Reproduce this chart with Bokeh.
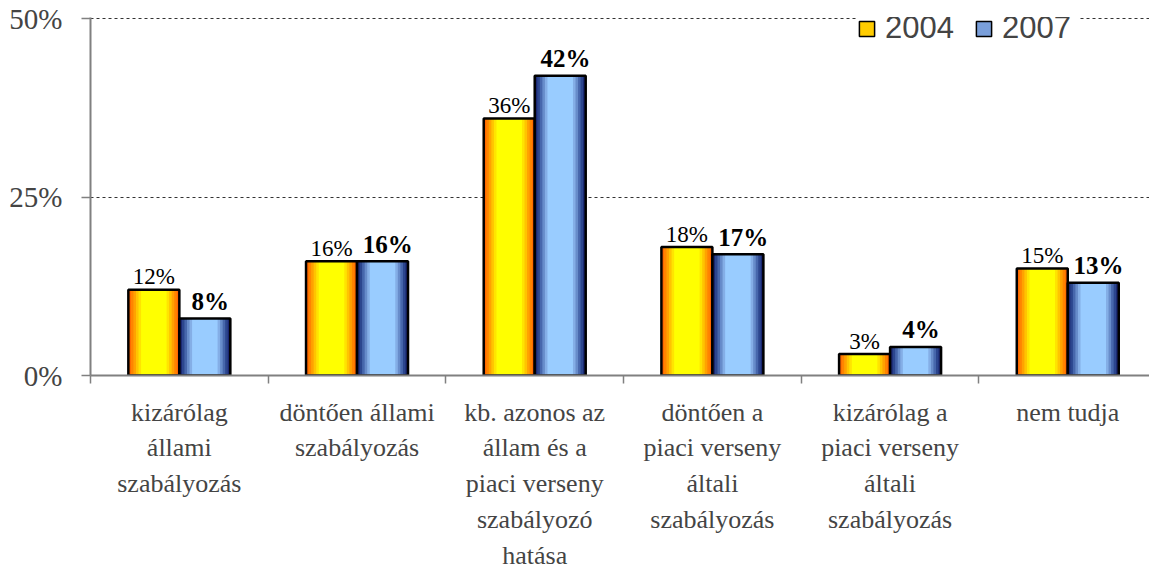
from bokeh.plotting import figure
from bokeh.models import (ColumnDataSource, Range1d, FixedTicker, PrintfTickFormatter,
                          Legend, LegendItem)
from bokeh.transform import dodge
from bokeh.core.properties import value
from bokeh.embed import file_html
from bokeh.resources import INLINE

categories = [
    "kizárólag\nállami\nszabályozás",
    "döntően állami\nszabályozás",
    "kb. azonos az\nállam és a\npiaci verseny\nszabályozó\nhatása",
    "döntően a\npiaci verseny\náltali\nszabályozás",
    "kizárólag a\npiaci verseny\náltali\nszabályozás",
    "nem tudja",
]
series_names = ["2004", "2007"]
values_2004 = [12, 16, 36, 18, 3, 15]
values_2007 = [8, 16, 42, 17, 4, 13]
y_ticks = [0, 25, 50]

centers = [i + 0.5 for i in range(len(categories))]
source = ColumnDataSource(dict(
    x=centers,
    v2004=values_2004,
    v2007=values_2007,
    l2004=[f"{v}%" for v in values_2004],
    l2007=[f"{v}%" for v in values_2007],
))

SERIF = "Liberation Serif"
SANS = "Liberation Sans"

p = figure(width=1149, height=573, output_backend="svg", toolbar_location=None,
           x_range=Range1d(0, 5.96), y_range=Range1d(0, 50.15),
           min_border_left=90, min_border_right=0, min_border_top=17,
           min_border_bottom=197)
p.outline_line_color = None
p.background_fill_color = "white"
p.border_fill_color = "white"

bw = 0.287
off = 0.1435

orange_layers = [(1.0, "#FF6600"), (0.9, "#FF8400"), (0.8, "#FFA200"),
                 (0.7, "#FFC400"), (0.6, "#FFE400"), (0.5, "#FFFF00")]
blue_layers = [(1.0, "#1A2670"), (0.9, "#2C468E"), (0.8, "#4767AC"),
               (0.7, "#678CCA"), (0.6, "#84AEE6"), (0.5, "#99CCFF")]

for frac, col in orange_layers:
    p.vbar(x=dodge("x", -off, range=p.x_range), top="v2004", width=bw * frac,
           source=source, fill_color=col, line_color=None)
p.vbar(x=dodge("x", -off, range=p.x_range), top="v2004", width=bw, source=source,
       fill_alpha=0, line_color="black", line_width=2.5)

for frac, col in blue_layers:
    p.vbar(x=dodge("x", off, range=p.x_range), top="v2007", width=bw * frac,
           source=source, fill_color=col, line_color=None)
p.vbar(x=dodge("x", off, range=p.x_range), top="v2007", width=bw, source=source,
       fill_alpha=0, line_color="black", line_width=2.5)

# value labels
p.text(x=dodge("x", -off, range=p.x_range), y="v2004", text="l2004", source=source,
       text_font=value(SERIF), text_font_size="23px", text_align="center",
       text_baseline="alphabetic", y_offset=-13, text_color="black")
p.text(x=dodge("x", off + 0.03, range=p.x_range), y="v2007", text="l2007", source=source,
       text_font=value(SERIF), text_font_size="25px", text_font_style="bold",
       text_align="center", text_baseline="alphabetic", y_offset=-17, text_color="black")

# legend (swatch-only renderers, no visible data)
nan = float("nan")
leg_src = ColumnDataSource(dict(x=[nan], top=[nan]))
leg_o = p.vbar(x="x", top="top", width=0.1, source=leg_src,
               fill_color="#FFCC00", line_color="black", line_width=1.5)
leg_b = p.vbar(x="x", top="top", width=0.1, source=leg_src,
               fill_color="#7A9FDA", line_color="black", line_width=1.5)
legend = Legend(items=[LegendItem(label=series_names[0], renderers=[leg_o]),
                       LegendItem(label=series_names[1], renderers=[leg_b])],
                orientation="horizontal", location=(767, 329),
                glyph_width=19, glyph_height=19, label_standoff=9, spacing=11,
                padding=4, margin=0, border_line_color=None,
                background_fill_color="white", background_fill_alpha=1.0,
                label_text_font=SANS, label_text_font_size="31px",
                label_height=36, label_width=78)
p.add_layout(legend, "center")

# y axis
p.yaxis.ticker = FixedTicker(ticks=y_ticks)
p.yaxis.formatter = PrintfTickFormatter(format="%d%%")
p.yaxis.major_label_text_font = SERIF
p.yaxis.major_label_text_font_size = "29px"
p.yaxis.major_label_standoff = 19
p.yaxis.major_tick_out = 9
p.yaxis.major_tick_in = 0
p.yaxis.minor_tick_out = 0
p.yaxis.minor_tick_in = 0
p.yaxis.axis_line_color = "#808080"
p.yaxis.axis_line_width = 2
p.yaxis.major_tick_line_color = "#808080"
p.yaxis.major_tick_line_width = 1.5

# x axis
p.xaxis.ticker = FixedTicker(ticks=centers, minor_ticks=list(range(len(categories) + 1)))
p.xaxis.major_label_overrides = {c: lab for c, lab in zip(centers, categories)}
p.xaxis.major_label_text_font = SERIF
p.xaxis.major_label_text_font_size = "26px"
p.xaxis.major_label_text_line_height = 1.24
p.xaxis.major_label_standoff = 14
p.xaxis.major_tick_out = 8
p.xaxis.major_tick_in = 0
p.xaxis.major_tick_line_color = None
p.xaxis.minor_tick_out = 8
p.xaxis.minor_tick_in = 0
p.xaxis.minor_tick_line_color = "#808080"
p.xaxis.minor_tick_line_width = 1.5
p.xaxis.axis_line_color = "#808080"
p.xaxis.axis_line_width = 2

# grid
p.xgrid.grid_line_color = None
p.ygrid.ticker = FixedTicker(ticks=[25, 50])
p.ygrid.grid_line_color = "#333333"
p.ygrid.grid_line_dash = "3 3"
p.ygrid.grid_line_width = 1

open("out.html", "w").write(file_html(p, INLINE))
